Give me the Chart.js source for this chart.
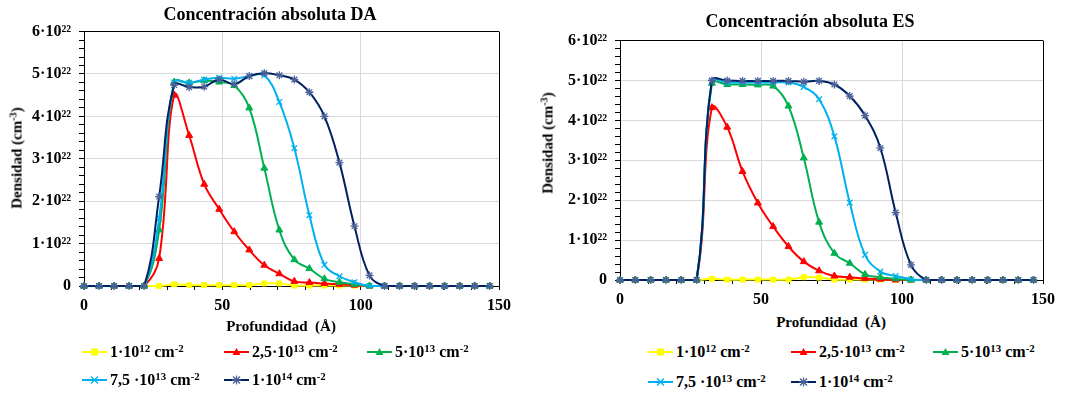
<!DOCTYPE html>
<html lang="es">
<head>
<meta charset="UTF-8">
<title>Concentración absoluta</title>
<script src="https://cdn.jsdelivr.net/npm/chart.js"></script>
<style>
  body { margin: 0; background: #fff; font-family: 'Liberation Serif', 'Times New Roman', serif; color: #000; }
  #wrap { position: relative; width: 1075px; height: 397px; overflow: hidden; }
  .box { position: absolute; top: 0; }
  .ytitle, .xtitle { position: absolute; font-weight: bold; font-size: 15px; white-space: nowrap; }
  .xtitle { transform: translate(-50%, -50%); }
  .ytitle { transform: translate(-50%, -50%) rotate(-90deg); }
  .leg { position: absolute; display: flex; align-items: center; font-weight: bold; font-size: 16px; white-space: nowrap; transform: translateY(-50%); }
  .leg svg { margin-right: 3px; }
  sup { font-size: 68%; line-height: 0; vertical-align: 0.5em; }
</style>
</head>
<body>
<div id="wrap">
  <div class="box" style="left:0;width:535px;height:318px"><canvas id="chartDA"></canvas></div>
  <div class="box" style="left:535px;width:540px;height:312px"><canvas id="chartES"></canvas></div>

  <div class="ytitle" style="left:17px;top:158px">Densidad (cm<sup>-3</sup>)</div>
  <div class="ytitle" style="left:548px;top:143px">Densidad (cm<sup>-3</sup>)</div>
  <div class="xtitle" style="left:281px;top:326px">Profundidad&nbsp;&nbsp;(Å)</div>
  <div class="xtitle" style="left:831px;top:322px">Profundidad&nbsp;&nbsp;(Å)</div>
  <div id="legendDA"></div>
  <div id="legendES"></div>
</div>

<script>
// profundidad (Å), one point per Si lattice step
const depth = [0, 5.43, 10.86, 16.29, 21.72, 27.16, 32.59, 38.02, 43.45, 48.88,
  54.31, 59.74, 65.17, 70.60, 76.03, 81.47, 86.90, 92.33, 97.76, 103.19,
  108.62, 114.05, 119.48, 124.91, 130.34, 135.78, 141.21, 146.64];

// densities in units of 1e22 cm^-3
const daDose1 = [0, 0, 0, 0, 0, 0, 0.04, 0.02, 0.02, 0.02, 0.02, 0.02, 0.06, 0.06, 0.01, 0.01, 0.01, 0.01, 0.01, 0, 0, 0, 0, 0, 0, 0, 0, 0];
const daDose2 = [0, 0, 0, 0, 0, 0.65, 4.50, 3.55, 2.40, 1.81, 1.28, 0.85, 0.49, 0.29, 0.11, 0.08, 0.06, 0.04, 0.02, 0, 0, 0, 0, 0, 0, 0, 0, 0];
const daDose3 = [0, 0, 0, 0, 0, 1.32, 4.81, 4.79, 4.84, 4.81, 4.73, 4.20, 2.78, 1.32, 0.62, 0.41, 0.17, 0.09, 0.04, 0, 0, 0, 0, 0, 0, 0, 0, 0];
const daDose4 = [0, 0, 0, 0, 0, 1.60, 4.80, 4.79, 4.87, 4.91, 4.89, 4.95, 4.97, 4.34, 3.25, 1.67, 0.50, 0.23, 0.09, 0, 0, 0, 0, 0, 0, 0, 0, 0];
const daDose5 = [0, 0, 0, 0, 0, 2.11, 4.74, 4.69, 4.70, 4.87, 4.76, 4.95, 5.02, 4.97, 4.87, 4.57, 4.00, 2.91, 1.41, 0.25, 0, 0, 0, 0, 0, 0, 0, 0];

const esDose1 = [0, 0, 0, 0, 0, 0, 0.03, 0.01, 0.01, 0.01, 0.01, 0.01, 0.07, 0.06, 0.01, 0.01, 0.01, 0.01, 0.01, 0, 0, 0, 0, 0, 0, 0, 0, 0];
const esDose2 = [0, 0, 0, 0, 0, 0, 4.32, 3.83, 2.72, 1.93, 1.34, 0.84, 0.46, 0.23, 0.10, 0.07, 0.04, 0.02, 0, 0, 0, 0, 0, 0, 0, 0, 0, 0];
const esDose3 = [0, 0, 0, 0, 0, 0, 4.93, 4.90, 4.90, 4.89, 4.86, 4.36, 3.06, 1.45, 0.67, 0.42, 0.14, 0.07, 0.03, 0, 0, 0, 0, 0, 0, 0, 0, 0];
const esDose4 = [0, 0, 0, 0, 0, 0, 4.99, 4.95, 4.95, 4.95, 4.95, 4.95, 4.84, 4.53, 3.60, 1.94, 0.63, 0.21, 0.10, 0.02, 0, 0, 0, 0, 0, 0, 0, 0];
const esDose5 = [0, 0, 0, 0, 0, 0, 5.00, 5.00, 4.99, 4.99, 4.99, 4.99, 4.97, 4.99, 4.90, 4.61, 4.12, 3.31, 1.69, 0.38, 0, 0, 0, 0, 0, 0, 0, 0];

const seriesNames = [
  '1·10<sup>12</sup> cm<sup>-2</sup>',
  '2,5·10<sup>13</sup> cm<sup>-2</sup>',
  '5·10<sup>13</sup> cm<sup>-2</sup>',
  '7,5 ·10<sup>13</sup> cm<sup>-2</sup>',
  '1·10<sup>14</sup> cm<sup>-2</sup>'
];
const yTickLabels = ['0', '1·10²²', '2·10²²', '3·10²²', '4·10²²', '5·10²²', '6·10²²'];
const xTickLabels = [0, 50, 100, 150];

const lineColors = ['#FFFF00', '#FF0000', '#00B050', '#00B0F0', '#002060'];
const markerColors = ['#FFFF00', '#FF0000', '#00B050', '#00B0F0', '#4A6298'];
const markers = ['rect', 'triangle', 'triangle', 'crossRot', 'star'];

const FONT = "'Liberation Serif', 'Times New Roman', serif";

function makeChart(id, title, series, opt) {
  const datasets = series.map((vals, i) => ({
    label: seriesNames[i].replace(/<[^>]+>/g, ''),
    data: depth.map((x, j) => ({ x: x, y: vals[j] })),
    borderColor: lineColors[i],
    backgroundColor: markerColors[i],
    pointBorderColor: markerColors[i],
    pointBackgroundColor: markerColors[i],
    pointStyle: markers[i],
    pointRadius: markers[i] === 'rect' ? 3.5 : 4,
    pointBorderWidth: (markers[i] === 'crossRot' || markers[i] === 'star') ? 1.3 : 1,
    borderWidth: 2,
    tension: 0.4,
    clip: false,
    order: 4 - i
  }));

  return new Chart(document.getElementById(id), {
    type: 'line',
    data: { datasets: datasets },
    options: {
      responsive: true,
      maintainAspectRatio: false,
      animation: false,
      layout: { padding: { left: opt.padLeft, right: 0, top: 0, bottom: 0 } },
      plugins: {
        legend: { display: false },
        tooltip: { enabled: false },
        title: {
          display: true,
          text: title,
          color: '#000',
          font: { family: FONT, size: 18, weight: 'bold' },
          padding: opt.titlePad
        }
      },
      scales: {
        x: {
          type: 'linear',
          min: 0,
          max: 150,
          afterFit: s => { s.height = opt.xHeight; },
          border: { color: '#000', width: 1 },
          grid: {
            color: c => {
              const v = c.tick.value;
              if (v === 150) return '#000';
              if (v === 50 || v === 100) return '#d9d9d9';
              return 'rgba(0,0,0,0)';
            },
            tickColor: '#000',
            tickLength: 4
          },
          ticks: {
            stepSize: 10,
            maxTicksLimit: 100,
            autoSkip: false,
            maxRotation: 0,
            padding: 6,
            color: '#000',
            font: { family: FONT, size: 16, weight: 'bold' },
            callback: v => xTickLabels.includes(v) ? String(v) : ''
          }
        },
        y: {
          min: 0,
          max: 6,
          afterFit: s => { s.width = opt.yWidth; },
          border: { color: '#000', width: 1 },
          grid: {
            color: c => {
              const v = c.tick.value;
              if (Math.abs(v - 6) < 1e-6) return '#000';
              if (Math.abs(v - Math.round(v)) < 1e-6 && v > 0.5) return '#d9d9d9';
              return 'rgba(0,0,0,0)';
            },
            tickColor: '#000',
            tickLength: 5
          },
          ticks: {
            stepSize: 0.2,
            maxTicksLimit: 100,
            autoSkip: false,
            padding: 8,
            color: '#000',
            font: { family: FONT, size: 16, weight: 'bold' },
            callback: v => {
              const r = Math.round(v);
              return Math.abs(v - r) < 1e-6 ? yTickLabels[r] : '';
            }
          }
        },
        // empty right-hand box that only reserves the margin right of the plot
        yRight: {
          position: 'right',
          min: 0,
          max: 6,
          afterFit: s => { s.width = opt.rightWidth; },
          border: { display: false },
          grid: { display: false, drawTicks: false },
          ticks: { display: false }
        }
      }
    }
  });
}

function markerSvg(i) {
  const c = markerColors[i];
  let m = '';
  if (markers[i] === 'rect') m = `<rect x="9" y="3.5" width="7" height="7" fill="${c}"/>`;
  else if (markers[i] === 'triangle') m = `<polygon points="12.5,3 16.5,10 8.5,10" fill="${c}"/>`;
  else if (markers[i] === 'crossRot') m = `<path d="M9,3.5L16,10.5M16,3.5L9,10.5" stroke="${c}" stroke-width="1.3"/>`;
  else m = `<path d="M9,3.5L16,10.5M16,3.5L9,10.5M12.5,2.5V11.5M8,7H17" stroke="${c}" stroke-width="1.3"/>`;
  return `<svg width="25" height="14"><line x1="0" y1="7" x2="25" y2="7" stroke="${lineColors[i]}" stroke-width="2"/>${m}</svg>`;
}

function buildLegend(id, cols, rows) {
  const host = document.getElementById(id);
  seriesNames.forEach((name, i) => {
    const el = document.createElement('div');
    el.className = 'leg';
    el.style.left = cols[i % 3] + 'px';
    el.style.top = rows[Math.floor(i / 3)] + 'px';
    el.innerHTML = markerSvg(i) + '<span>' + name + '</span>';
    host.appendChild(el);
  });
}

makeChart('chartDA', 'Concentración absoluta DA', [daDose1, daDose2, daDose3, daDose4, daDose5],
  { padLeft: 5, rightWidth: 36, xHeight: 32, yWidth: 79, titlePad: { top: 5, bottom: 5 } });
makeChart('chartES', 'Concentración absoluta ES', [esDose1, esDose2, esDose3, esDose4, esDose5],
  { padLeft: 10, rightWidth: 32, xHeight: 32, yWidth: 75, titlePad: { top: 12, bottom: 7 } });

buildLegend('legendDA', [82, 224, 367], [352, 380]);
buildLegend('legendES', [648, 791, 933], [352, 382]);
</script>
</body>
</html>
